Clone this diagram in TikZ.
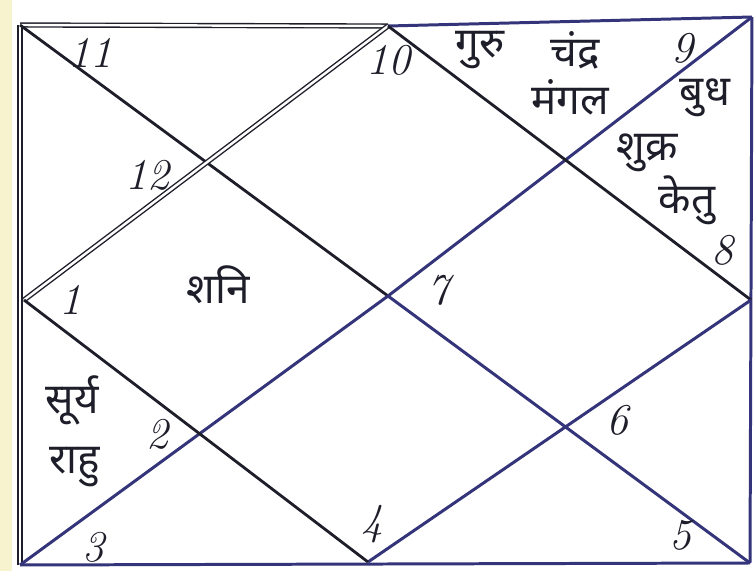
\documentclass[tikz,border=0pt]{standalone}
\usepackage{fontspec}
\usepackage{xcolor}
\newfontfamily\devfont[Script=Devanagari]{Noto Sans}
\definecolor{inkblack}{HTML}{1E1E2A}
\definecolor{inkblue}{HTML}{34347A}
\definecolor{paper}{HTML}{F7F3CF}

\begin{document}
\begin{tikzpicture}[
    x=0.02cm, y=-0.02cm,
    blackink/.style={draw=inkblack, line width=1.6pt},
    blueink/.style={draw=inkblue, line width=1.7pt},
    twin/.style={draw=inkblack, double=white, double distance=1.4pt, line width=0.8pt},
    num/.style={font=\fontsize{25}{27}\selectfont\itshape, text=inkblack, inner sep=0pt},
    graha/.style={font=\devfont\fontsize{24}{26}\selectfont, text=inkblack, inner sep=0pt}
]
    % Page
    \useasboundingbox (0,0) rectangle (755,571);
    \fill[white] (0,0) rectangle (755,571);
    \fill[paper] (0,0) rectangle (12,571);

    % Corners and midpoints
    \coordinate (tl) at (20,25);
    \coordinate (tr) at (752,17);
    \coordinate (br) at (750,563);
    \coordinate (bl) at (20,565);
    \coordinate (lm) at (24,300);
    \coordinate (tm) at (388,26);
    \coordinate (rm) at (751,300);
    \coordinate (bm) at (368,562);
    \coordinate (c) at (388,296);

    % Frame
    \draw[twin] (tl) -- (tm);
    \draw[blueink] (tm) -- (tr);
    \draw[blueink] (tr) -- (br);
    \draw[blueink] (br) -- (bl);
    \draw[twin] (bl) -- (tl);

    % Diagonals
    \draw[blackink] (tl) -- (c);
    \draw[blueink] (c) -- (br);
    \draw[blueink] (tr) -- (c);
    \draw[blueink] (c) -- (bl);

    % Diamond
    \draw[twin] (lm) -- (tm);
    \draw[blackink] (tm) -- (rm);
    \draw[blueink] (rm) -- (bm);
    \draw[blackink] (lm) -- (bm);

    % House numbers
    \node[num] (h11) at (90,53) {11};
    \node[num] (h10) at (388,60) {10};
    \node[num] (h9) at (682,48) {9};
    \node[num] (h12) at (147,175) {12};
    \node[num] (h8) at (722,250) {8};
    \node[num] (h1) at (70,300) {1};
    \node[num] (h7) at (438,290) {7};
    \node[num] (h2) at (157,434) {2};
    \node[num] (h6) at (617,420) {6};
    \node[num] (h3) at (93,547) {3};
    \node[num] (h4) at (372,524) {4};
    \node[num] (h5) at (680,535) {5};

    % Planets
    \node[graha] (guru) at (480,50) {गुरु};
    \node[graha] (chandra) at (575,50) {चंद्र};
    \node[graha] (mangal) at (570,97) {मंगल};
    \node[graha] (budh) at (705,98) {बुध};
    \node[graha] (shukra) at (647,153) {शुक्र};
    \node[graha] (ketu) at (687,200) {केतु};
    \node[graha] (shani) at (218,285) {शनि};
    \node[graha] (surya) at (72,400) {सूर्य};
    \node[graha] (rahu) at (75,467) {राहु};
\end{tikzpicture}
\end{document}
